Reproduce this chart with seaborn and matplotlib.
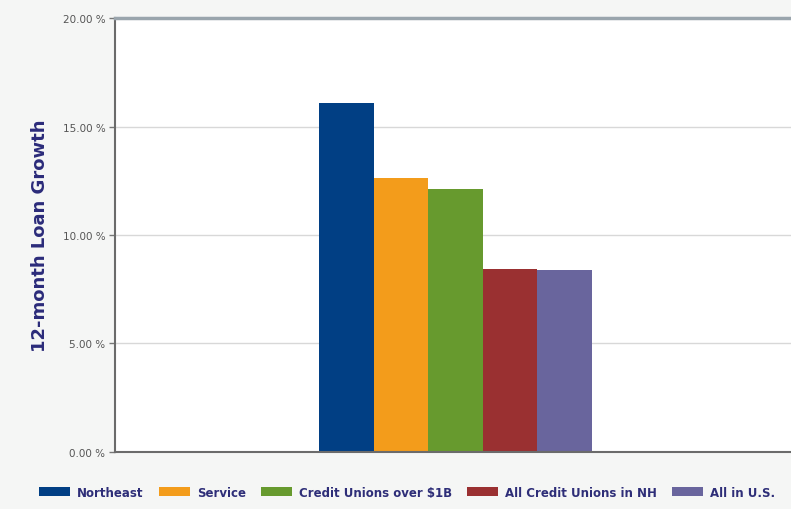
import pandas as pd
import matplotlib.pyplot as plt
import seaborn as sns
from matplotlib.patches import Patch

# values (percent)
groups = ["Northeast", "Service", "Credit Unions over $1B", "All Credit Unions in NH", "All in U.S."]
growth = [16.1, 12.65, 12.1, 8.45, 8.4]
colors = ["#013f84", "#f39c1b", "#679a2e", "#9a3031", "#69659d"]
yticks = [0, 5, 10, 15, 20]

df = pd.DataFrame({"period": [""] * len(groups), "group": groups, "growth": growth})

sns.set_style("white")
plt.rcParams["font.family"] = ["DejaVu Sans"]

fig = plt.figure(figsize=(7.91, 5.10), dpi=100, facecolor="#f5f6f5")
ax = fig.add_axes([0.1454, 0.1118, 0.861, 0.8509])
ax.set_facecolor("white")

sns.barplot(data=df, x="period", y="growth", hue="group", hue_order=groups,
            palette=colors, width=0.401, saturation=1, linewidth=0, ax=ax, legend=False)

ax.set_xlim(-0.5, 0.5)
ax.set_ylim(0, 20)
ax.set_yticks(yticks)
ax.set_yticklabels([f"{v:.2f} %" for v in yticks], fontsize=7.5, color="#555555")
ax.set_xticks([])
ax.set_xlabel("")
ax.set_ylabel("12-month Loan Growth", fontsize=13, fontweight="bold", color="#2b2b7a", labelpad=10)
ax.yaxis.grid(True, color="#d8d8d8", linewidth=1)
ax.set_axisbelow(True)
ax.tick_params(axis="y", length=4, width=1, color="#777777", left=True, pad=3)

for side in ["left", "bottom"]:
    ax.spines[side].set_color("#6b6b6b")
    ax.spines[side].set_linewidth(1.5)
ax.spines["top"].set_color("#9aa5ad")
ax.spines["top"].set_linewidth(2.5)
ax.spines["right"].set_visible(False)

handles = [Patch(facecolor=c, edgecolor="none") for c in colors]
leg = fig.legend(handles, groups, loc="center", bbox_to_anchor=(0.515, 0.033), ncol=5,
                 frameon=False, handlelength=2.6, handleheight=0.9, columnspacing=1.3,
                 handletextpad=0.6, prop={"size": 8.5, "weight": "bold"})
for t in leg.get_texts():
    t.set_color("#2e2e78")

fig.savefig("out.png", dpi=100, facecolor=fig.get_facecolor())
